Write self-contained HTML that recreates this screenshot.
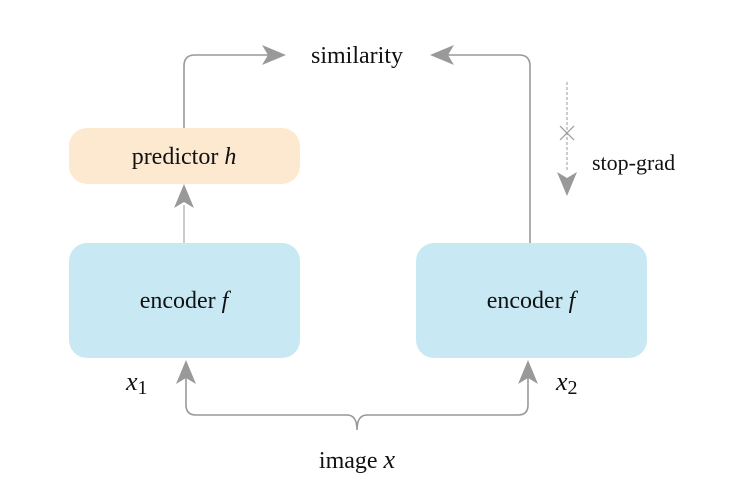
<!DOCTYPE html>
<html><head><meta charset="utf-8"><style>
body{margin:0;background:#fff;}
svg text{font-family:"Liberation Serif",serif;fill:#111;}
</style></head><body>
<svg width="738" height="482" viewBox="0 0 738 482" xmlns="http://www.w3.org/2000/svg">
<defs>
<marker id="a" viewBox="0 0 10 10" refX="9" refY="5" markerWidth="10" markerHeight="10" markerUnits="userSpaceOnUse" orient="auto">
</marker>
</defs>
<rect x="69" y="128" width="231" height="56" rx="18" fill="#fde9d0"/>
<rect x="69" y="243" width="231" height="115" rx="18" fill="#c8e9f4"/>
<rect x="416" y="243" width="231" height="115" rx="18" fill="#c8e9f4"/>
<g stroke="#999" fill="none" stroke-width="1.6">
<path d="M184 128 V66 Q184 55 195 55 H270"/>
<path d="M530 243 V66 Q530 55 519 55 H445"/>
<path d="M184 243 V205" stroke-width="1"/>
<path d="M186 375 V405 Q186 415 196 415 H347 Q357 415 357 430 Q357 415 367 415 H518 Q528 415 528 405 V375"/>
<path d="M567 82 V172" stroke-width="1" stroke-dasharray="3,2"/>
<path d="M560 126 L574 140 M574 126 L560 140" stroke-width="1.2"/>
</g>
<g fill="#999">
<path d="M286 55 L262 45 L268 55 L262 65 Z"/>
<path d="M430 55 L454 45 L448 55 L454 65 Z"/>
<path d="M184 184 L174 208 L184 202 L194 208 Z"/>
<path d="M186 360 L176 384 L186 378 L196 384 Z"/>
<path d="M528 360 L518 384 L528 378 L538 384 Z"/>
<path d="M567 196 L557 172 L567 178 L577 172 Z"/>
</g>
<text x="357" y="63" font-size="24" text-anchor="middle">similarity</text>
<text x="184" y="164" font-size="24" text-anchor="middle">predictor <tspan font-style="italic">h</tspan></text>
<text x="184" y="308" font-size="24" text-anchor="middle">encoder <tspan font-style="italic">f</tspan></text>
<text x="531" y="308" font-size="24" text-anchor="middle">encoder <tspan font-style="italic">f</tspan></text>
<text x="592" y="170" font-size="22">stop-grad</text>
<text x="126" y="390" font-size="26" font-style="italic">x<tspan font-style="normal" font-size="20" dy="4">1</tspan></text>
<text x="556" y="390" font-size="26" font-style="italic">x<tspan font-style="normal" font-size="20" dy="4">2</tspan></text>
<text x="357" y="468" font-size="24" text-anchor="middle">image <tspan font-style="italic" font-size="26">x</tspan></text>
</svg>
</body></html>
